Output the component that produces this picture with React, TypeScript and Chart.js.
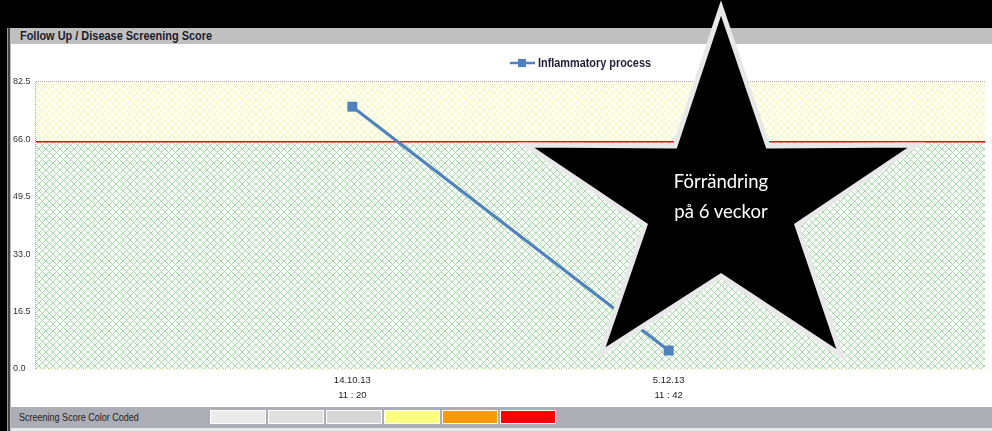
import React, { useEffect, useRef } from 'react';
import { Chart, registerables } from 'chart.js';

Chart.register(...registerables);

// ---- data ----
const seriesName = 'Inflammatory process';
const dateLabels = ['14.10.13', '5.12.13'];
const timeLabels = ['11 : 20', '11 : 42'];
const xPositions = [1, 2];
const values = [75.4, 5.3];
const yTicks = [0, 16.5, 33, 49.5, 66, 82.5];
const yMax = 82.5;
const threshold = 65.3;
const colorScale = ['#ebebeb', '#e0e0e0', '#d6d6d6', '#ffff80', '#ff9900', '#ff0000'];
const titleText = 'Follow Up / Disease Screening Score';
const footerText = 'Screening Score Color Coded';
const starLines = ['Förrändring', 'på 6 veckor'];

const NARROW = "'Liberation Sans Narrow', 'Arial Narrow', 'Liberation Sans', sans-serif";
const LINE_COLOR = '#4f81bd';

function makeHatch(ctx: CanvasRenderingContext2D, bg: string, line: string, size: number) {
  const c = document.createElement('canvas');
  c.width = size;
  c.height = size;
  const g = c.getContext('2d')!;
  g.fillStyle = bg;
  g.fillRect(0, 0, size, size);
  g.strokeStyle = line;
  g.lineWidth = 1;
  g.beginPath();
  g.moveTo(0, 0);
  g.lineTo(size, size);
  g.moveTo(size, 0);
  g.lineTo(0, size);
  g.stroke();
  return ctx.createPattern(c, 'repeat')!;
}

const bandsPlugin = {
  id: 'bands',
  beforeDatasetsDraw(chart: any) {
    const { ctx, chartArea: a, scales } = chart;
    const y = scales.y;
    const yT = y.getPixelForValue(threshold);
    const yTop = y.getPixelForValue(yMax);
    const yellow = makeHatch(ctx, '#fffff2', '#f5f5bf', 7);
    const green = makeHatch(ctx, '#f8fcf8', '#a9d9a9', 7);
    ctx.save();
    ctx.fillStyle = yellow;
    ctx.fillRect(a.left, yTop, a.right - a.left, yT - yTop);
    ctx.fillStyle = green;
    ctx.fillRect(a.left, yT, a.right - a.left, a.bottom - yT);
    // bottom faint yellow edge
    ctx.setLineDash([1, 2]);
    ctx.strokeStyle = '#f0f0a0';
    ctx.lineWidth = 1;
    ctx.beginPath();
    ctx.moveTo(a.left, a.bottom + 0.5);
    ctx.lineTo(a.right, a.bottom + 0.5);
    ctx.stroke();
    // dotted top & left border
    ctx.strokeStyle = '#a8a8a8';
    ctx.setLineDash([1, 1]);
    ctx.beginPath();
    ctx.moveTo(a.left, yTop - 0.5);
    ctx.lineTo(a.right, yTop - 0.5);
    ctx.moveTo(a.left - 0.5, yTop);
    ctx.lineTo(a.left - 0.5, a.bottom);
    ctx.stroke();
    // red threshold line
    ctx.setLineDash([]);
    ctx.strokeStyle = '#ff0000';
    ctx.lineWidth = 1.5;
    ctx.beginPath();
    ctx.moveTo(a.left, yT);
    ctx.lineTo(a.right, yT);
    ctx.stroke();
    ctx.restore();
  },
};

function ChartCanvas() {
  const ref = useRef<HTMLCanvasElement>(null);
  useEffect(() => {
    if (!ref.current) return;
    const chart = new Chart(ref.current, {
      type: 'line',
      data: {
        datasets: [
          {
            label: seriesName,
            data: xPositions.map((x, i) => ({ x, y: values[i] })),
            borderColor: LINE_COLOR,
            backgroundColor: LINE_COLOR,
            borderWidth: 3,
            pointStyle: 'rect',
            pointRadius: 7,
            pointBackgroundColor: LINE_COLOR,
            pointBorderColor: LINE_COLOR,
            pointBorderWidth: 0,
            tension: 0,
          },
        ],
      },
      options: {
        responsive: false,
        animation: false,
        layout: { padding: { left: 2, right: 3, top: 38, bottom: 0 } },
        plugins: { legend: { display: false }, tooltip: { enabled: false } },
        scales: {
          x: {
            type: 'linear',
            min: 0,
            max: 3,
            afterBuildTicks: (s: any) => {
              s.ticks = xPositions.map((v) => ({ value: v }));
            },
            afterFit: (s: any) => {
              s.height = 38;
            },
            ticks: {
              autoSkip: false,
              maxRotation: 0,
              padding: 4,
              color: '#222',
              font: { family: NARROW, size: 9.5, lineHeight: 1.6 },
              callback: (v: any) => {
                const i = xPositions.indexOf(Number(v));
                return i >= 0 ? [dateLabels[i], timeLabels[i]] : '';
              },
            },
            grid: { display: false, drawTicks: false },
            border: { display: false },
          },
          y: {
            min: 0,
            max: yMax,
            afterBuildTicks: (s: any) => {
              s.ticks = yTicks.map((v) => ({ value: v }));
            },
            afterFit: (s: any) => {
              s.width = 23;
            },
            ticks: {
              crossAlign: 'far',
              padding: 0,
              color: '#333',
              font: { family: NARROW, size: 9 },
              callback: (v: any) => Number(v).toFixed(1),
            },
            grid: { display: false, drawTicks: false },
            border: { display: false },
          },
        },
      },
      plugins: [bandsPlugin],
    } as any);
    return () => chart.destroy();
  }, []);
  return <canvas ref={ref} width={981} height={363} style={{ position: 'absolute', left: 11, top: 44, width: 981, height: 363 }} />;
}

const starPoints = '721,8 768,146 916,145 797,225 841,355 721,276 601,353 645,225 526,145 675,146';

export default function App() {
  return (
    <div style={{ position: 'absolute', left: 0, top: 0, width: 992, height: 431, overflow: 'hidden', background: '#fff' }}>
      {/* top black band */}
      <div style={{ position: 'absolute', left: 0, top: 0, width: 992, height: 28, background: '#000' }} />
      {/* left frame */}
      <div style={{ position: 'absolute', left: 0, top: 0, width: 7, height: 431, background: '#000' }} />
      <div style={{ position: 'absolute', left: 7, top: 28, width: 1, height: 403, background: '#999' }} />
      <div style={{ position: 'absolute', left: 8, top: 28, width: 2, height: 403, background: '#444' }} />
      <div style={{ position: 'absolute', left: 10, top: 28, width: 1, height: 403, background: '#bbb' }} />
      {/* header */}
      <div style={{ position: 'absolute', left: 11, top: 28, width: 981, height: 16, background: '#c0c0c0' }} />
      <div
        style={{
          position: 'absolute', left: 20, top: 28, height: 16, lineHeight: '16px', whiteSpace: 'nowrap',
          fontFamily: NARROW, fontWeight: 'bold', fontSize: 12.5, color: '#1c1c2c',
          transform: 'scaleX(0.875)', transformOrigin: 'left center',
        }}
      >
        {titleText}
      </div>
      <ChartCanvas />
      {/* legend */}
      <div style={{ position: 'absolute', left: 510, top: 54, height: 18, display: 'flex', alignItems: 'center' }}>
        <svg width={25} height={18} style={{ display: 'block' }}>
          <line x1={0} y1={9} x2={25} y2={9} stroke={LINE_COLOR} strokeWidth={2.5} />
          <rect x={8} y={5} width={8} height={8} fill={LINE_COLOR} />
        </svg>
        <span
          style={{
            marginLeft: 3, fontFamily: NARROW, fontWeight: 'bold', fontSize: 12.5, color: '#1f1f3a', whiteSpace: 'nowrap',
            display: 'inline-block', transform: 'scaleX(0.87)', transformOrigin: 'left center',
          }}
        >
          {seriesName}
        </span>
      </div>
      {/* footer */}
      <div style={{ position: 'absolute', left: 11, top: 407, width: 981, height: 21, background: '#adadb5' }} />
      <div style={{ position: 'absolute', left: 11, top: 428, width: 981, height: 3, background: '#e8e8e8' }} />
      <div
        style={{
          position: 'absolute', left: 19, top: 407, height: 21, lineHeight: '21px', fontFamily: NARROW, fontSize: 11, color: '#222',
          whiteSpace: 'nowrap', transform: 'scaleX(0.82)', transformOrigin: 'left center',
        }}
      >
        {footerText}
      </div>
      <div style={{ position: 'absolute', left: 210, top: 410, display: 'flex' }}>
        {colorScale.map((c, i) => (
          <div key={i} style={{ width: 56, height: 14, background: c, border: '1px solid #fff', boxSizing: 'border-box', marginRight: i < colorScale.length - 1 ? 2 : 0 }} />
        ))}
      </div>
      {/* star callout */}
      <svg width={992} height={431} style={{ position: 'absolute', left: 0, top: 0, pointerEvents: 'none' }}>
        <polygon points={starPoints} fill="#000" stroke="#e8e8e8" strokeWidth={5} strokeLinejoin="miter" strokeMiterlimit={10} />
      </svg>
      {starLines.map((t, i) => (
        <div
          key={i}
          style={{
            position: 'absolute', left: 621, width: 200, top: 168 + i * 30, height: 26, lineHeight: '26px', textAlign: 'center',
            fontFamily: "Lato, 'Open Sans', sans-serif", fontSize: 18.5, color: '#fff', whiteSpace: 'nowrap',
          }}
        >
          {t}
        </div>
      ))}
    </div>
  );
}
